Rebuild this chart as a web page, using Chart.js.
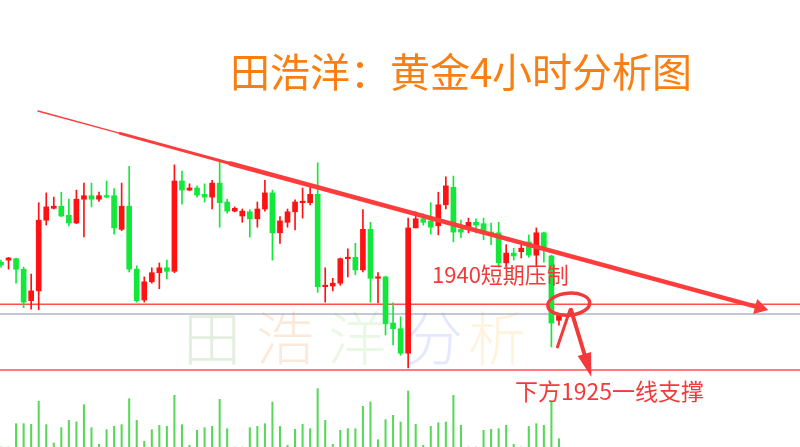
<!DOCTYPE html>
<html>
<head>
<meta charset="utf-8">
<script src="https://cdn.jsdelivr.net/npm/chart.js@4.4.0/dist/chart.umd.min.js"></script>
<style>
  html, body { margin: 0; padding: 0; background: #fff; }
  canvas { display: block; }
</style>
</head>
<body>
<canvas id="kline" width="800" height="447"></canvas>
<script>
// 4h gold candles (oldest first)
const opens = [1940.4, 1940.7, 1940.9, 1939.4, 1934.9, 1936.3, 1946.4, 1948.1, 1948.4, 1947.1,
  1946.0, 1949.4, 1949.9, 1949.4, 1949.9, 1949.9, 1945.1, 1948.4, 1939.4, 1935.0,
  1937.6, 1938.9, 1939.6, 1939.1, 1952.0, 1950.7, 1951.0, 1950.1, 1949.7, 1951.7,
  1949.0, 1947.7, 1947.0, 1947.6, 1946.6, 1948.0, 1950.3, 1944.6, 1946.1, 1947.6,
  1948.9, 1948.9, 1950.1, 1936.9, 1937.0, 1937.4, 1940.9, 1941.1, 1939.3, 1945.1,
  1938.1, 1938.3, 1931.7, 1930.9, 1927.4, 1945.3, 1946.6, 1946.3, 1945.6, 1948.6,
  1951.1, 1945.1, 1945.3, 1946.1, 1945.9, 1944.7, 1944.6, 1940.3, 1941.7, 1941.9,
  1943.3, 1941.4, 1944.6, 1941.3, 1932.1];
const highs = [1940.7, 1941.1, 1941.0, 1939.7, 1938.7, 1948.9, 1950.3, 1949.7, 1950.4, 1949.4,
  1950.7, 1951.7, 1951.7, 1950.4, 1952.0, 1950.9, 1951.7, 1954.1, 1939.9, 1938.3,
  1939.6, 1940.3, 1940.7, 1954.3, 1953.4, 1951.6, 1951.3, 1951.6, 1952.1, 1954.7,
  1949.4, 1948.3, 1948.0, 1947.9, 1949.0, 1952.1, 1950.7, 1946.9, 1948.0, 1949.3,
  1951.0, 1951.1, 1954.6, 1939.6, 1938.1, 1941.0, 1942.3, 1943.1, 1947.9, 1946.1,
  1938.9, 1938.4, 1934.6, 1932.6, 1946.7, 1947.6, 1947.3, 1948.9, 1950.4, 1952.6,
  1952.7, 1946.4, 1946.7, 1946.6, 1946.7, 1946.0, 1946.1, 1942.9, 1942.4, 1942.9,
  1944.3, 1945.3, 1944.7, 1941.4, 1933.1];
const lows = [1939.7, 1939.4, 1937.4, 1933.9, 1933.7, 1933.6, 1945.7, 1948.0, 1946.9, 1945.6,
  1945.9, 1944.0, 1948.3, 1949.1, 1949.6, 1944.4, 1944.9, 1939.0, 1934.7, 1934.7,
  1937.4, 1936.6, 1938.0, 1938.9, 1948.7, 1950.6, 1949.7, 1949.0, 1948.0, 1945.4,
  1947.4, 1947.6, 1946.1, 1944.0, 1945.4, 1947.7, 1940.7, 1943.1, 1945.4, 1945.0,
  1946.7, 1948.6, 1936.1, 1934.7, 1936.3, 1937.1, 1938.3, 1938.6, 1939.0, 1934.7,
  1934.6, 1930.0, 1928.6, 1927.1, 1925.3, 1945.3, 1945.7, 1944.4, 1944.3, 1948.0,
  1943.3, 1943.9, 1944.6, 1944.6, 1943.6, 1942.9, 1939.7, 1939.7, 1940.7, 1941.0,
  1941.1, 1939.7, 1940.4, 1928.3, 1931.4];
const closes = [1940.0, 1941.0, 1939.4, 1934.7, 1936.3, 1946.4, 1948.3, 1948.4, 1947.0, 1946.0,
  1949.4, 1949.9, 1949.4, 1949.9, 1949.7, 1945.3, 1948.4, 1939.4, 1934.9, 1937.6,
  1938.9, 1939.6, 1939.1, 1952.0, 1950.7, 1951.0, 1950.0, 1949.7, 1951.7, 1948.9,
  1947.7, 1948.1, 1947.7, 1946.6, 1948.0, 1950.3, 1944.6, 1946.3, 1947.6, 1949.0,
  1949.0, 1950.1, 1936.9, 1937.1, 1937.4, 1940.9, 1941.0, 1939.3, 1945.1, 1938.1,
  1938.3, 1931.6, 1930.9, 1927.4, 1945.3, 1946.6, 1946.1, 1945.4, 1948.6, 1951.3,
  1944.7, 1944.7, 1946.1, 1945.7, 1944.7, 1944.4, 1940.3, 1941.7, 1941.3, 1942.4,
  1941.4, 1944.6, 1942.4, 1931.7, 1932.9];
const volumes = [0, 0, 70, 70, 68, 137, 67, 12, 58, 80,
  75, 127, 58, 8, 52, 62, 67, 145, 80, 17,
  52, 65, 62, 155, 67, 5, 50, 58, 62, 143,
  55, 0, 0, 58, 62, 70, 135, 62, 5, 53,
  68, 55, 175, 80, 8, 50, 55, 55, 122, 135,
  22, 82, 95, 75, 168, 68, 5, 62, 73, 75,
  155, 65, 0, 0, 50, 53, 55, 65, 8, 0,
  62, 70, 65, 135, 25];

// horizontal levels and the drawn trend line (bar index, price)
const redLevels = [1934.4, 1925.0];
const lastPrice = 1933.0;
const trendX = [4.9, 15.8, 30.4, 100.6];
const trendY = [1962.0, 1958.8, 1954.5, 1933.9];
const trendWidths = [1.5, 3, 4.5];

// hand-drawn marks near the last candle
const ringAt = { x: 75.3, y: 1934.4 };
const arrowFrom = { x: 75.6, y: 1933.6 };
const arrowTip = { x: 78.3, y: 1924.0 };
const spikeTip = { x: 73.8, y: 1928.3 };

const RED = '#ff1212';
const GREEN = '#12e83a';
const MARK = '#f23a3a';

const candleColors = opens.map((o, i) => (closes[i] >= o ? RED : GREEN));
const idx = opens.map((_, i) => i);

const overlay = {
  id: 'overlay',
  beforeDatasetsDraw(chart) {
    const ctx = chart.ctx;
    ctx.save();
    ctx.font = '300 58px "Noto Sans CJK SC"';
    ctx.textAlign = 'center';
    ctx.textBaseline = 'middle';
    const chars = ['田', '浩', '洋', '分', '析'];
    const cols = ['#e2efdf', '#fde9da', '#e8f8e2', '#e3e8fd', '#fff3dd'];
    const xs = [212, 285, 357, 434, 497];
    chars.forEach((c, i) => {
      ctx.fillStyle = cols[i];
      ctx.fillText(c, xs[i], 338);
    });
    ctx.restore();
  },
  afterDatasetsDraw(chart) {
    const ctx = chart.ctx;
    const sx = chart.scales.x, sy = chart.scales.y;
    const px = p => ({ x: sx.getPixelForValue(p.x), y: sy.getPixelForValue(p.y) });
    ctx.save();

    ctx.fillStyle = '#fa7f12';
    ctx.font = '40px "Noto Sans CJK SC"';
    ctx.textAlign = 'center';
    ctx.textBaseline = 'middle';
    ctx.fillText('田浩洋：黄金4小时分析图', 461, 72);

    ctx.fillStyle = MARK;
    ctx.textAlign = 'left';
    ctx.font = '22px "Noto Sans CJK SC"';
    ctx.fillText('1940短期压制', 432, 275);
    ctx.font = '23px "Noto Sans CJK SC"';
    ctx.fillText('下方1925一线支撑', 515, 391);

    const r = px(ringAt);
    ctx.strokeStyle = MARK;
    ctx.lineWidth = 3.5;
    ctx.beginPath();
    ctx.ellipse(r.x, r.y, 21, 11, -0.08, 0, Math.PI * 2);
    ctx.stroke();

    const a = px(arrowFrom), t = px(arrowTip), s = px(spikeTip);
    ctx.lineCap = 'round';
    ctx.lineWidth = 3;
    ctx.beginPath();
    ctx.moveTo(a.x - 1, a.y);
    ctx.lineTo(s.x, s.y);
    ctx.stroke();

    const ang = Math.atan2(t.y - a.y, t.x - a.x);
    const back = { x: t.x - Math.cos(ang) * 24, y: t.y - Math.sin(ang) * 24 };
    ctx.lineWidth = 4;
    ctx.beginPath();
    ctx.moveTo(a.x, a.y);
    ctx.lineTo(back.x, back.y);
    ctx.stroke();
    ctx.fillStyle = MARK;
    ctx.beginPath();
    ctx.moveTo(t.x, t.y);
    ctx.lineTo(back.x + Math.sin(ang) * 7, back.y - Math.cos(ang) * 7);
    ctx.lineTo(back.x - Math.sin(ang) * 7, back.y + Math.cos(ang) * 7);
    ctx.closePath();
    ctx.fill();
    ctx.restore();
  }
};

const hLine = (val, color, width) => ({
  type: 'line',
  data: [{ x: -2, y: val }, { x: 110, y: val }],
  borderColor: color,
  borderWidth: width,
  pointRadius: 0,
  order: 10
});

new Chart(document.getElementById('kline'), {
  type: 'bar',
  data: {
    datasets: [
      {
        type: 'line',
        data: trendX.map((x, i) => ({ x, y: trendY[i] })),
        borderColor: '#ff3c3c',
        borderWidth: 4.5,
        borderCapStyle: 'round',
        segment: { borderWidth: c => trendWidths[c.p0DataIndex] },
        pointRadius: 0,
        order: 0
      },
      {
        type: 'line',
        data: [{ x: trendX[3], y: trendY[3] }],
        pointStyle: 'triangle',
        pointRadius: 9,
        rotation: 105,
        pointBackgroundColor: '#ff3c3c',
        pointBorderWidth: 0,
        showLine: false,
        order: 0
      },
      {
        data: idx.map(i => ({ x: i, y: [opens[i], closes[i]] })),
        backgroundColor: candleColors,
        barThickness: 5,
        minBarLength: 1.5,
        order: 3
      },
      {
        data: idx.map(i => ({ x: i, y: [lows[i], highs[i]] })),
        backgroundColor: candleColors,
        barThickness: 1,
        order: 4
      },
      {
        data: volumes.map((v, i) => ({ x: i, y: v })),
        yAxisID: 'yv',
        backgroundColor: '#58d858',
        barThickness: 1.4,
        order: 5
      },
      hLine(redLevels[0], '#ff5050', 1.5),
      hLine(redLevels[1], '#ff5050', 1.5),
      hLine(lastPrice, '#8493ad', 1.2)
    ]
  },
  options: {
    responsive: false,
    animation: false,
    layout: { padding: 0, autoPadding: false },
    datasets: { bar: { grouped: false, borderWidth: 0 } },
    plugins: { legend: { display: false }, tooltip: { enabled: false } },
    scales: {
      x: { type: 'linear', min: -0.133, max: 105.97, offset: false, display: false },
      y: { type: 'linear', min: 1914, max: 1925 + 370 / 7, display: false },
      yv: { type: 'linear', min: 0, max: 1341, display: false }
    }
  },
  plugins: [overlay]
});
</script>
</body>
</html>
